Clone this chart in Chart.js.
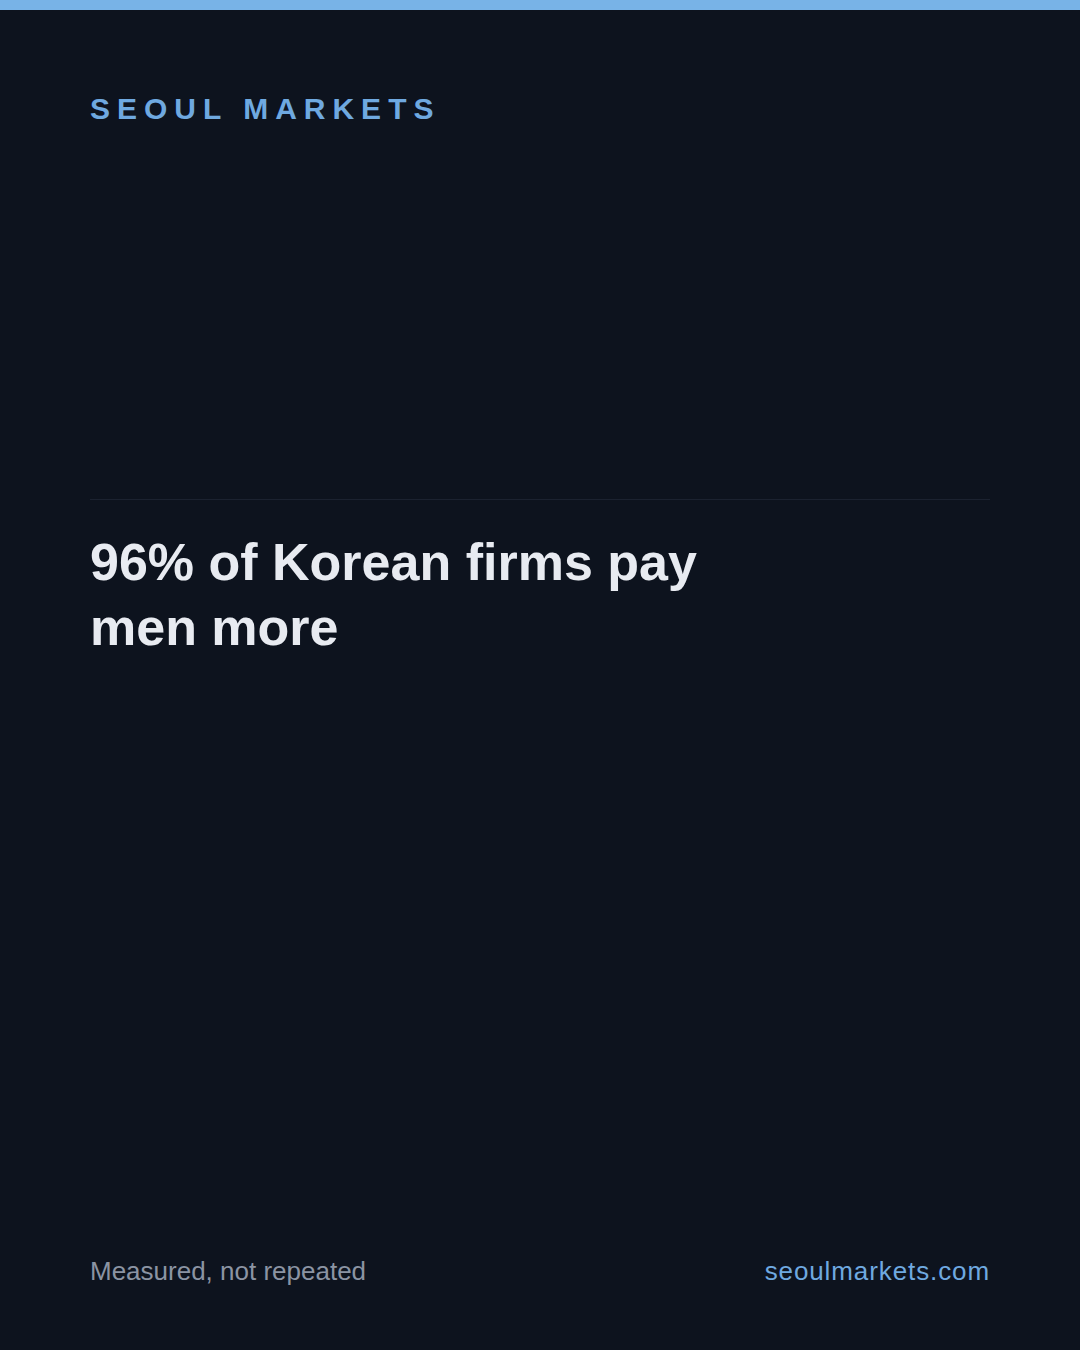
<!DOCTYPE html>
<html>
<head>
<meta charset="utf-8">
<script src="https://cdn.jsdelivr.net/npm/chart.js@4.4.1/dist/chart.umd.min.js"></script>
<style>
  html, body { margin: 0; padding: 0; }
  body {
    width: 1080px;
    height: 1350px;
    background: #0d131e;
    font-family: "Liberation Sans", Arial, sans-serif;
    position: relative;
    overflow: hidden;
  }
  .topbar { position: absolute; left: 0; top: 0; width: 1080px; height: 10px; background: #78b3e7; }
  .brand {
    position: absolute; left: 90px; top: 92px;
    font-size: 30px; font-weight: bold; letter-spacing: 7px;
    color: #6fa9e0; line-height: 34px;
  }
  .rule { position: absolute; left: 90px; top: 499px; width: 900px; height: 1px; background: #1b2230; }
  .title {
    position: absolute; left: 90px; top: 530px; width: 760px;
    font-size: 52px; font-weight: bold; line-height: 65px; color: #e8ebf1;
  }
  .chart-wrap { position: absolute; left: 90px; top: 700px; width: 900px; height: 500px; }
  .foot-left { position: absolute; left: 90px; top: 1256px; font-size: 26px; line-height: 30px; color: #8b94a3; }
  .foot-right { position: absolute; right: 90px; top: 1256px; font-size: 26px; line-height: 30px; color: #6fa9e0; letter-spacing: 0.9px; }
</style>
</head>
<body>
<div class="topbar"></div>
<div class="brand">SEOUL MARKETS</div>
<div class="rule"></div>
<div class="title">96% of Korean firms pay<br>men more</div>
<div class="chart-wrap"><canvas id="myChart"></canvas></div>
<div class="foot-left">Measured, not repeated</div>
<div class="foot-right">seoulmarkets.com</div>

<script>
// 参照画像には棒も点も描かれていないので、データは空のまま
const categories = [];
const shareValues = [];
const tickLabels = [];

function drawChart() {
    const ctx = document.getElementById("myChart");
    new Chart(ctx, {
        type: "bar",
        data: {
            labels: categories,
            datasets: [
                {
                    label: "Share of firms",
                    backgroundColor: "#6fa9e0",
                    borderWidth: 0,
                    data: shareValues,
                },
            ],
        },
        options: {
            responsive: true,
            maintainAspectRatio: false,
            animation: false,
            plugins: {
                legend: { display: false },
                tooltip: { enabled: false },
            },
            scales: {
                x: { display: false },
                y: {
                    display: false,
                    ticks: {
                        callback: (value, index) => tickLabels[index] ?? value,
                    },
                },
            },
        },
    });
}

window.onload = function () {
    drawChart();
};
</script>
</body>
</html>
